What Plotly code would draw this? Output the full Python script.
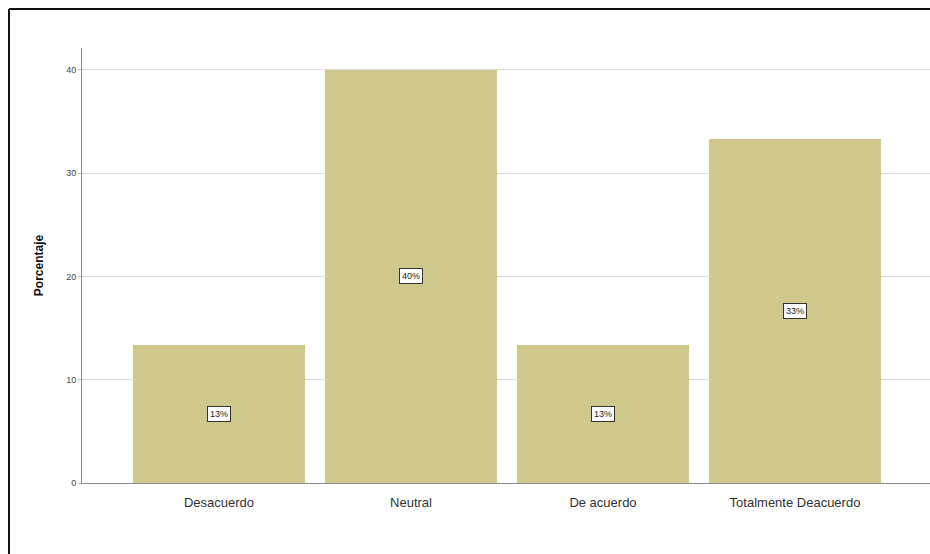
import plotly.graph_objects as go

categories = ["Desacuerdo", "Neutral", "De acuerdo", "Totalmente Deacuerdo"]
percentages = [13.33, 40.0, 13.33, 33.33]
y_ticks = [0, 10, 20, 30, 40]

bar_color = "#CEC88C"

fig = go.Figure()
fig.add_trace(go.Bar(
    x=list(range(len(categories))),
    y=percentages,
    width=0.895,
    marker=dict(color=bar_color, line=dict(width=0)),
    hoverinfo="skip",
))

for i, v in enumerate(percentages):
    fig.add_annotation(
        x=i, y=v / 2, xref="x", yref="y",
        text=f"{round(v)}%", showarrow=False,
        font=dict(family="Liberation Sans, Arial, sans-serif", size=9, color="#222"),
        bgcolor="white", bordercolor="#333", borderwidth=1, borderpad=2,
    )

# outer frame of the picture (left and top edges; the rest is cropped off)
fx0 = (9 - 82) / 848
fy1 = (483 - 9) / 435
fig.add_shape(type="line", xref="paper", yref="paper",
              x0=fx0, x1=fx0, y0=-0.3, y1=fy1,
              line=dict(color="#111", width=2), layer="above")
fig.add_shape(type="line", xref="paper", yref="paper",
              x0=fx0, x1=1.0, y0=fy1, y1=fy1,
              line=dict(color="#111", width=2), layer="above")

fig.update_layout(
    width=930, height=554,
    margin=dict(l=82, r=0, t=48, b=71),
    paper_bgcolor="white", plot_bgcolor="white",
    showlegend=False,
    bargap=0,
    xaxis=dict(
        range=[-(219 - 82) / 192, (930 - 219) / 192],
        tickmode="array", tickvals=list(range(len(categories))), ticktext=categories,
        showgrid=False, zeroline=False,
        showline=True, linecolor="#8a8a8a", linewidth=1,
        ticks="outside", ticklen=7, tickcolor="rgba(0,0,0,0)",
        tickfont=dict(family="Liberation Sans, Arial, sans-serif", size=13, color="#333"),
    ),
    yaxis=dict(
        range=[0, 42.1],
        tickmode="array", tickvals=y_ticks, ticktext=[str(t) for t in y_ticks],
        showgrid=True, gridcolor="#dedede", gridwidth=1,
        zeroline=False,
        showline=True, linecolor="#8a8a8a", linewidth=1,
        ticks="outside", ticklen=3, tickcolor="#bbbbbb",
        tickfont=dict(family="Liberation Sans, Arial, sans-serif", size=9, color="#444"),
        title=dict(text="<b>Porcentaje</b>", standoff=19,
                   font=dict(family="Liberation Sans, Arial, sans-serif", size=12, color="#111")),
    ),
)

fig.write_html("out.html")
